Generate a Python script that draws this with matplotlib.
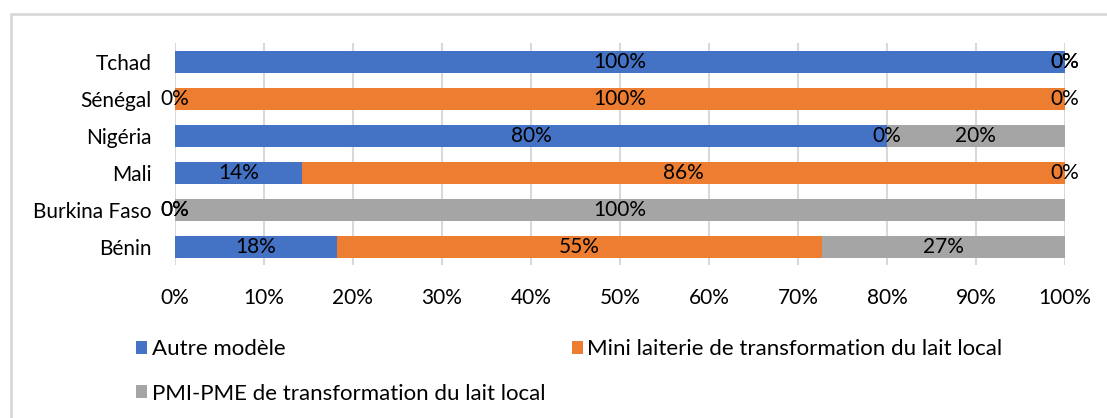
import numpy as np
import matplotlib.pyplot as plt
from matplotlib.patches import Rectangle

# Données
pays = ["Bénin", "Burkina Faso", "Mali", "Nigéria", "Sénégal", "Tchad"]
autre = [18.18, 0, 14.29, 80, 0, 100]
mini = [54.55, 0, 85.71, 0, 100, 0]
pmi = [27.27, 100, 0, 20, 0, 0]
series = ["Autre modèle", "Mini laiterie de transformation du lait local",
          "PMI-PME de transformation du lait local"]
couleurs = ["#4472C4", "#ED7D31", "#A5A5A5"]
ticks = np.arange(0, 101, 10)

plt.rcParams['font.family'] = ['Lato', 'DejaVu Sans']
fs = 15

fig = plt.figure(figsize=(11.07, 4.18), dpi=100)
ax = fig.add_axes([0.158, 0.365, 0.804, 0.531])

# cadre extérieur gris clair
fig.patches.append(Rectangle((11 / 1107, -0.1), 1.2, 1 - 14 / 418 + 0.1,
                             transform=fig.transFigure, fill=False,
                             edgecolor="#D9D9D9", linewidth=2))

y = np.arange(len(pays))
left = np.zeros(len(pays))
barres = []
for vals, nom, c in zip([autre, mini, pmi], series, couleurs):
    vals = np.array(vals)
    b = ax.barh(y, vals, left=left, height=0.6, color=c, label=nom, zorder=2)
    barres.append(b)
    for yi, l, v in zip(y, left, vals):
        ax.text(l + v / 2, yi, f"{round(v)}%", ha="center", va="center",
                fontsize=fs, color="black", zorder=3)
    left = left + vals

ax.set_xlim(0, 100)
ax.set_ylim(-0.5, len(pays) - 0.5)
ax.set_yticks(y)
ax.set_yticklabels(pays, fontsize=fs)
ax.set_xticks(ticks)
ax.set_xticklabels([f"{t}%" for t in ticks], fontsize=fs)
ax.tick_params(axis="y", length=0, pad=17)
ax.tick_params(axis="x", length=0, pad=16)
ax.xaxis.grid(True, color="#D9D9D9", linewidth=1.5, zorder=0)
ax.set_axisbelow(True)
for s in ax.spines.values():
    s.set_visible(False)

# ordre ligne par ligne : Autre, Mini / PMI
ordre = [0, 2, 1]
fig.legend([barres[i] for i in ordre], [series[i] for i in ordre],
           loc="upper left", bbox_to_anchor=(0.115, 0.21), ncol=2,
           frameon=False, fontsize=16, handlelength=0.5, handleheight=0.5,
           handletextpad=0.2, columnspacing=1.2, labelspacing=1.1,
           borderaxespad=0)

fig.savefig("out.png", dpi=100)
